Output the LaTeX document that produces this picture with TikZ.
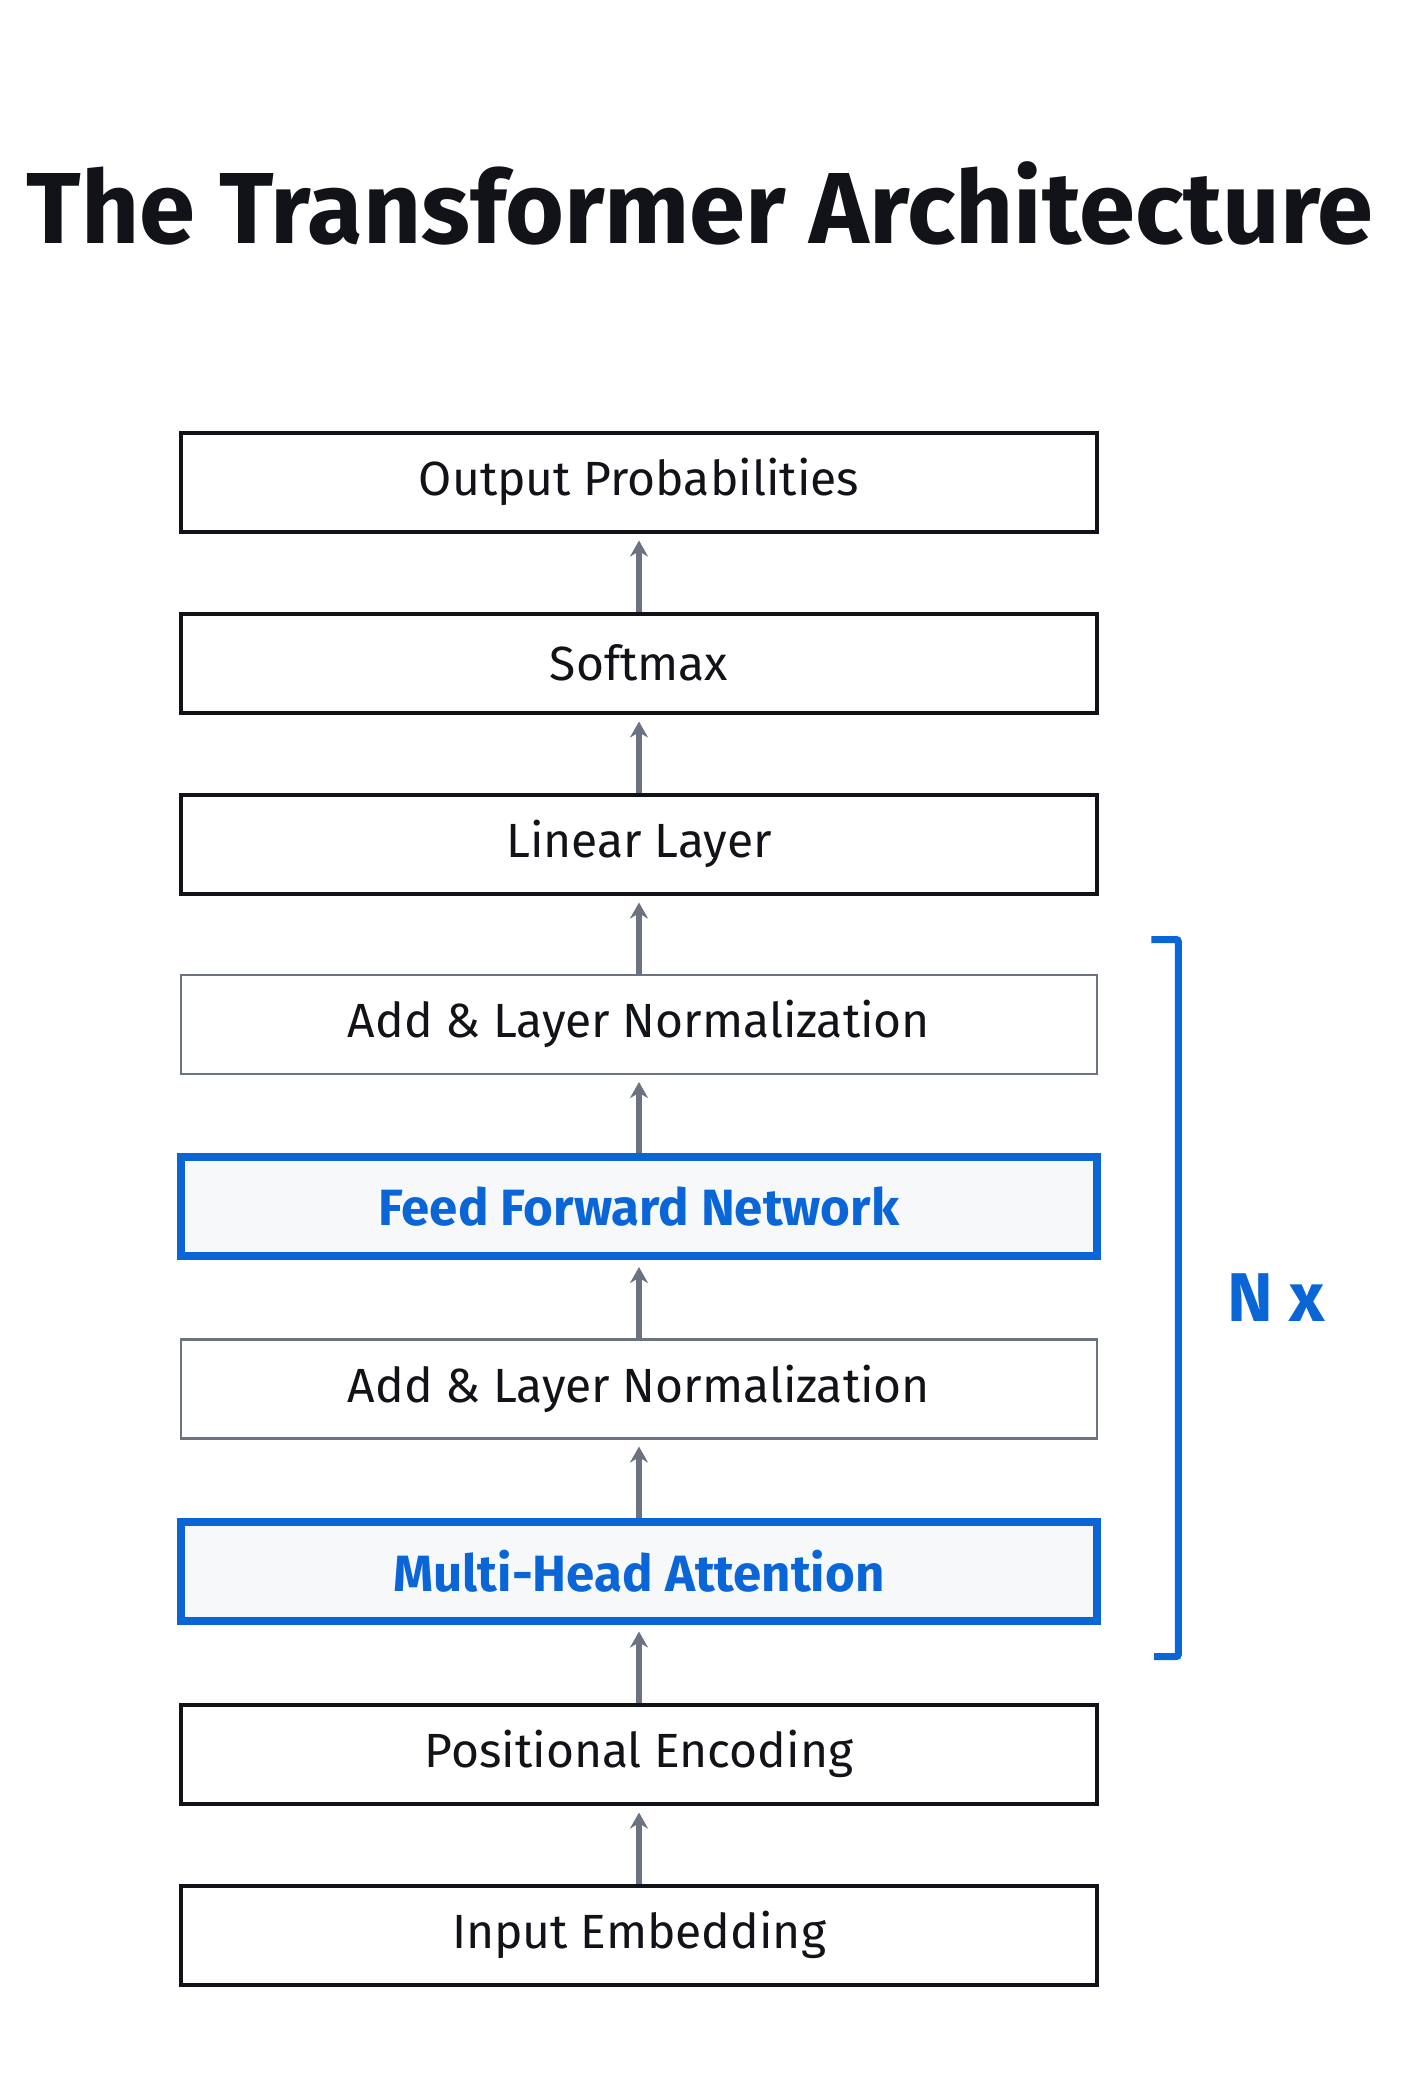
\documentclass[tikz,border=0pt]{standalone}
\usepackage{fontspec}
\setmainfont{Fira Sans}
\usetikzlibrary{matrix,arrows.meta}
\definecolor{accent}{RGB}{10,102,214}
\definecolor{flowgray}{RGB}{107,114,128}
\definecolor{ink}{RGB}{17,19,24}
\definecolor{softfill}{RGB}{246,248,250}
\tikzset{
  layer/.style={draw=ink, line width=4pt, minimum width=916pt, minimum height=99pt,
    font=\fontsize{48}{54}\selectfont, text=ink, inner sep=0pt},
  normlayer/.style={layer, draw=flowgray, line width=2.5pt},
  keylayer/.style={layer, draw=accent, fill=softfill, line width=8pt, text=accent,
    font=\fontsize{51}{56}\selectfont\bfseries},
  uparrow/.style={draw=flowgray, line width=6pt, -{Stealth[length=16pt,width=18pt]}, shorten >=7pt},
}
\begin{document}
\begin{tikzpicture}[x=1pt,y=-1pt]
				\useasboundingbox (0,0) rectangle (1400,2100);
				\node[font=\fontsize{101}{110}\selectfont\bfseries, text=ink] (title) at (700,203) {The Transformer Architecture};
				\matrix(m)[matrix of nodes, row sep=78pt, anchor=north, nodes={layer}] at (639,427)
				{ Output Probabilities \\
				Softmax \\
				Linear Layer \\
				|[normlayer]| Add \& Layer Normalization \\
				|[keylayer]| Feed Forward Network \\
				|[normlayer]| Add \& Layer Normalization \\
				|[keylayer]| Multi-Head Attention \\
				Positional Encoding \\
				Input Embedding \\};
				\foreach \i/\j in {1/2,2/3,3/4,4/5,5/6,6/7,7/8,8/9}
					\draw[uparrow] (m-\j-1.north) -- (m-\i-1.south);
				\coordinate (top) at ([xshift=53pt,yshift=34pt]m-4-1.north east);
				\coordinate (bot) at ([xshift=53pt,yshift=-32pt]m-7-1.south east);
				\draw[accent,line width=7pt,rounded corners=2pt] (top) -- ++(27,0) |- (bot);
				\node[text=accent,font=\fontsize{69}{76}\selectfont\bfseries] (nx) at (1276,1298) {N x};
			\end{tikzpicture}
\end{document}
